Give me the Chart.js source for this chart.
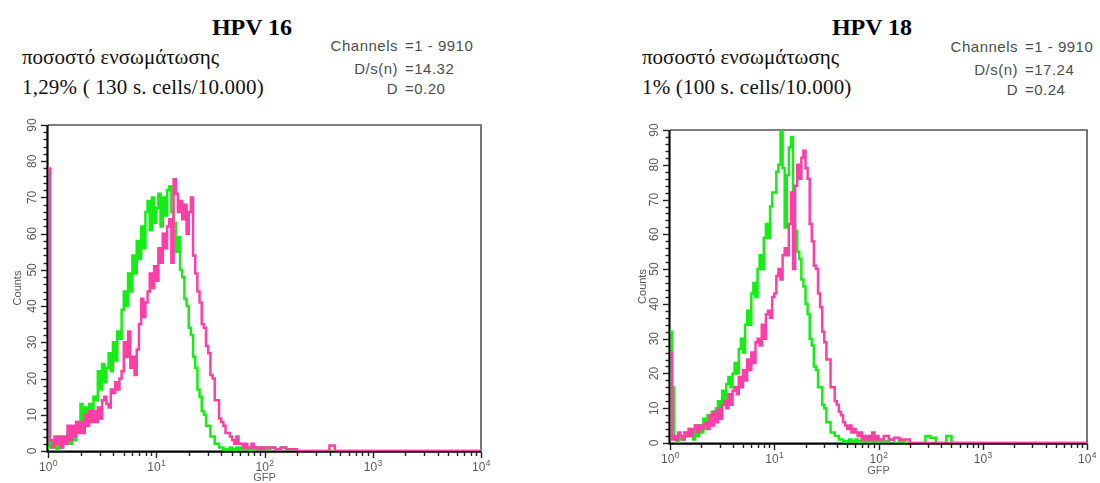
<!DOCTYPE html>
<html><head><meta charset="utf-8">
<script src="https://cdn.jsdelivr.net/npm/chart.js@4.4.1/dist/chart.umd.min.js"></script>
<style>
html,body{margin:0;padding:0;background:#fff;}
body{width:1100px;height:483px;position:relative;overflow:hidden;}
.t{position:absolute;white-space:nowrap;}
.title{font:bold 24px "Liberation Serif","Times New Roman",serif;line-height:24px;width:200px;text-align:center;color:#000;}
.gr{font:21px "Liberation Serif","Times New Roman",serif;line-height:21px;color:#111;}
.st{font:15px "Liberation Sans",Arial,sans-serif;line-height:15px;color:#4d4d4d;letter-spacing:0.5px;}
.lab{text-align:right;width:100px;}
canvas{position:absolute;}
</style></head>
<body>
<div class="t title" style="left:152px;top:15px;">HPV 16</div>
<div class="t gr" style="left:22px;top:47px;">ποσοστό ενσωμάτωσης</div>
<div class="t gr" style="left:22px;top:77px;letter-spacing:0.2px;">1,29% ( 130 s. cells/10.000)</div>
<div class="t st lab" style="left:298px;top:38px;">Channels</div>
<div class="t st" style="left:405px;top:38px;">=1 - 9910</div>
<div class="t st lab" style="left:298px;top:61px;">D/s(n)</div>
<div class="t st" style="left:405px;top:61px;">=14.32</div>
<div class="t st lab" style="left:298px;top:81px;">D</div>
<div class="t st" style="left:405px;top:81px;">=0.20</div>

<div class="t title" style="left:772px;top:15px;">HPV 18</div>
<div class="t gr" style="left:642px;top:47px;">ποσοστό ενσωμάτωσης</div>
<div class="t gr" style="left:642px;top:77px;letter-spacing:0.2px;">1% (100 s. cells/10.000)</div>
<div class="t st lab" style="left:918px;top:39px;">Channels</div>
<div class="t st" style="left:1025px;top:39px;">=1 - 9910</div>
<div class="t st lab" style="left:918px;top:62px;">D/s(n)</div>
<div class="t st" style="left:1025px;top:62px;">=17.24</div>
<div class="t st lab" style="left:918px;top:82px;">D</div>
<div class="t st" style="left:1025px;top:82px;">=0.24</div>

<canvas id="c16" width="500" height="373" style="left:0;top:110px;width:500px;height:373px;"></canvas>
<canvas id="c18" width="480" height="373" style="left:620px;top:110px;width:480px;height:373px;"></canvas>

<script>
// log10 of GFP channel value for each histogram bin
const logBins = [
  0.00,0.02,0.04,0.06,0.08,0.10,0.12,0.14,0.16,0.18,
  0.20,0.22,0.24,0.26,0.28,0.30,0.32,0.34,0.36,0.38,
  0.40,0.42,0.44,0.46,0.48,0.50,0.52,0.54,0.56,0.58,
  0.60,0.62,0.64,0.66,0.68,0.70,0.72,0.74,0.76,0.78,
  0.80,0.82,0.84,0.86,0.88,0.90,0.92,0.94,0.96,0.98,
  1.00,1.02,1.04,1.06,1.08,1.10,1.12,1.14,1.16,1.18,
  1.20,1.22,1.24,1.26,1.28,1.30,1.32,1.34,1.36,1.38,
  1.40,1.42,1.44,1.46,1.48,1.50,1.52,1.54,1.56,1.58,
  1.60,1.62,1.64,1.66,1.68,1.70,1.72,1.74,1.76,1.78,
  1.80,1.82,1.84,1.86,1.88,1.90,1.92,1.94,1.96,1.98,
  2.00,
  2.05,2.10,2.15,2.20,2.25,2.30,2.35,2.40,2.45,2.50,2.55,2.60,2.65,2.70,2.80,3.00,3.50,4.00
];

const hpv16Green = [
  1,3,1,2,0.5,3,1,3,2,5,
  2,6,3,8,7,13,8,12,9,13,
  10,15,14,22,17,24,19,23,27,22,
  30,25,33,31,39,44,40,49,44,54,
  49,58,53,62,56,66,69,61,70,63,
  67,71,62,70,65,72,73,66,63,55,
  59,50,48,42,40,34,32,26,23,17,
  15,11,10,7,7,4,4,2,2,1,
  1,0.5,0,0.5,1,0.5,0,1,0.5,1,
  0.5,1,0.5,0,1,0.5,1,0.5,0,1,
  0.5,
  1,0.5,1,0.5,0,0,0,0,0,0,0,0,0,0,0,0,0,0
];
const hpv16Pink = [
  78,3,1,4,2,4,1,4,2,7,
  3,7,4,8,5,8,5,10,7,11,
  8,11,8,12,9,14,15,13,12,17,
  16,19,17,20,22,30,26,33,23,26,
  21,28,35,42,37,41,44,49,45,51,
  47,56,52,60,56,62,64,52,75,71,
  66,69,64,68,60,66,70,54,49,44,
  41,35,34,29,27,21,20,14,14,9,
  8,7,5,5,4,3,2,4,2,2,
  1,2,1,1,2,1,1,0.5,1,0.5,
  1,
  1,0.5,1,0.5,0.5,0,0,0,0,0,0,1.5,0,0,0,0,0,0
];
const hpv18Green = [
  32,16,1,0,1,2,1,3,2,4,
  3,1,5,2,5,3,7,4,8,5,
  9,8,10,12,10,15,12,17,19,16,
  20,23,20,27,30,26,34,38,34,43,
  46,42,50,54,50,59,63,59,68,72,
  72,78,80,90,79,62,77,85,88,63,
  61,55,53,47,45,40,37,30,28,22,
  21,16,16,11,10,6,6,3,3,2,
  2,1,1,0.5,0,0.5,1,0.5,0,1,
  0.5,0,1,0.5,1,0,2,0.5,1,0,
  0.5,
  0.5,1,0,0.5,0,0,0,0,2,1.5,0,0,2,0,0,0,0,0
];
const hpv18Pink = [
  26,1,2,1,3,2,1,3,2,4,
  2,4,5,3,5,4,5,6,4,8,
  5,9,6,10,7,11,12,10,14,11,
  15,16,14,19,16,21,18,24,21,26,
  23,29,30,28,34,30,37,38,36,42,
  43,48,50,47,54,56,54,63,72,50,
  74,80,76,82,84,79,76,63,58,51,
  50,43,39,32,29,24,24,16,16,12,
  11,9,8,6,5,4,5,3,4,3,
  2,3,1,2,1,2,1,3,1,2,
  1,
  2,1,1.5,1,1,0,0,0,0,0,0,0,0,0,0,0,0,0
];

const yTickValues = [0,10,20,30,40,50,60,70,80,90];
const yMinorStep = 2;
const xDecadeExponents = [0,1,2,3,4];
const xMinorMultipliers = [2,3,4,5,6,7,8,9];

const GREEN = '#14ee14';
const PINK = '#ff3fa6';
const LABEL_FONT = '"Liberation Sans", Arial, sans-serif';

function toPoints(vals) {
  return vals.map((v, i) => ({ x: Math.pow(10, logBins[i]), y: v }));
}

const axesPlugin = {
  id: 'facsAxes',
  beforeDatasetsDraw(chart) {
    const { ctx, chartArea: a, scales: { x, y } } = chart;
    ctx.save();
    ctx.strokeStyle = '#555';
    ctx.lineWidth = 1.6;
    ctx.beginPath();
    ctx.moveTo(a.left, a.top); ctx.lineTo(a.right, a.top); ctx.lineTo(a.right, a.bottom + 1);
    ctx.stroke();
    ctx.strokeStyle = '#000';
    ctx.lineWidth = 2.2;
    ctx.beginPath();
    ctx.moveTo(a.left - 0.5, a.top); ctx.lineTo(a.left - 0.5, a.bottom + 0.6); ctx.lineTo(a.right, a.bottom + 0.6);
    ctx.stroke();
    ctx.lineWidth = 1.4;
    ctx.strokeStyle = '#222';
    const yMin = yTickValues[0], yMax = yTickValues[yTickValues.length - 1];
    for (let v = yMin; v <= yMax; v += yMinorStep) {
      const py = Math.round(y.getPixelForValue(v)) + 0.5;
      const len = yTickValues.includes(v) ? 6 : 3.5;
      ctx.beginPath(); ctx.moveTo(a.left - 1, py); ctx.lineTo(a.left - 1 - len, py); ctx.stroke();
    }
    xDecadeExponents.forEach((d, idx) => {
      const px = Math.round(x.getPixelForValue(Math.pow(10, d))) + 0.5;
      ctx.beginPath(); ctx.moveTo(px, a.bottom + 1); ctx.lineTo(px, a.bottom + 7); ctx.stroke();
      if (idx < xDecadeExponents.length - 1) {
        xMinorMultipliers.forEach(m => {
          const qx = Math.round(x.getPixelForValue(m * Math.pow(10, d))) + 0.5;
          ctx.beginPath(); ctx.moveTo(qx, a.bottom + 1); ctx.lineTo(qx, a.bottom + 5); ctx.stroke();
        });
      }
    });
    ctx.restore();
  },
  afterDraw(chart) {
    const { ctx, chartArea: a, scales: { x, y } } = chart;
    ctx.save();
    ctx.fillStyle = '#5a5a5a';
    ctx.font = '12px ' + LABEL_FONT;
    ctx.textAlign = 'center';
    ctx.textBaseline = 'alphabetic';
    yTickValues.forEach(v => {
      const py = y.getPixelForValue(v);
      ctx.save();
      ctx.translate(a.left - 12.5, py);
      ctx.rotate(-Math.PI / 2);
      ctx.fillText(String(v), 0, 0);
      ctx.restore();
    });
    const baseFont = '12px ' + LABEL_FONT;
    const supFont = '8.5px ' + LABEL_FONT;
    const baseY = a.bottom + 20;
    ctx.textAlign = 'left';
    xDecadeExponents.forEach(d => {
      const px = x.getPixelForValue(Math.pow(10, d));
      ctx.font = baseFont;
      const w1 = ctx.measureText('10').width;
      ctx.font = supFont;
      const w2 = ctx.measureText(String(d)).width;
      const start = px - (w1 + w2) / 2;
      ctx.font = baseFont;
      ctx.fillText('10', start, baseY);
      ctx.font = supFont;
      ctx.fillText(String(d), start + w1 + 0.5, baseY - 5);
    });
    ctx.restore();
  }
};

function makeChart(id, greenVals, pinkVals, g) {
  return new Chart(document.getElementById(id), {
    type: 'line',
    data: {
      datasets: [
        { label: 'pink', data: toPoints(pinkVals), borderColor: PINK, borderWidth: 2.5, stepped: true, pointRadius: 0, fill: false },
        { label: 'green', data: toPoints(greenVals), borderColor: GREEN, borderWidth: 2.5, stepped: true, pointRadius: 0, fill: false }
      ]
    },
    options: {
      responsive: false,
      animation: false,
      devicePixelRatio: 1,
      layout: { padding: { left: 0, top: g.padTop, right: g.padRight, bottom: 0 } },
      plugins: { legend: { display: false }, tooltip: { enabled: false } },
      scales: {
        x: {
          type: 'logarithmic', min: 1, max: 10000,
          grid: { display: false, drawTicks: false }, border: { display: false },
          ticks: { display: false },
          title: { display: true, text: 'GFP', color: '#666', font: { family: LABEL_FONT, size: 11, lineHeight: 1 }, padding: { top: 0, bottom: g.gfpPad } },
          afterFit: s => { s.height = g.xH; }
        },
        y: {
          type: 'linear', min: 0, max: 90,
          grid: { display: false, drawTicks: false }, border: { display: false },
          ticks: { display: false },
          title: { display: true, text: 'Counts', color: '#555', font: { family: LABEL_FONT, size: 11, lineHeight: 1 }, padding: { top: g.countsPad, bottom: 0 } },
          afterFit: s => { s.width = g.yW; }
        }
      }
    },
    plugins: [axesPlugin]
  });
}

makeChart('c16', hpv16Green, hpv16Pink, { padTop: 15, padRight: 19, xH: 32, yW: 48, gfpPad: 0, countsPad: 12.5 });
makeChart('c18', hpv18Green, hpv18Pink, { padTop: 20, padRight: 13, xH: 40, yW: 50, gfpPad: 7, countsPad: 17 });
</script>
</body></html>
